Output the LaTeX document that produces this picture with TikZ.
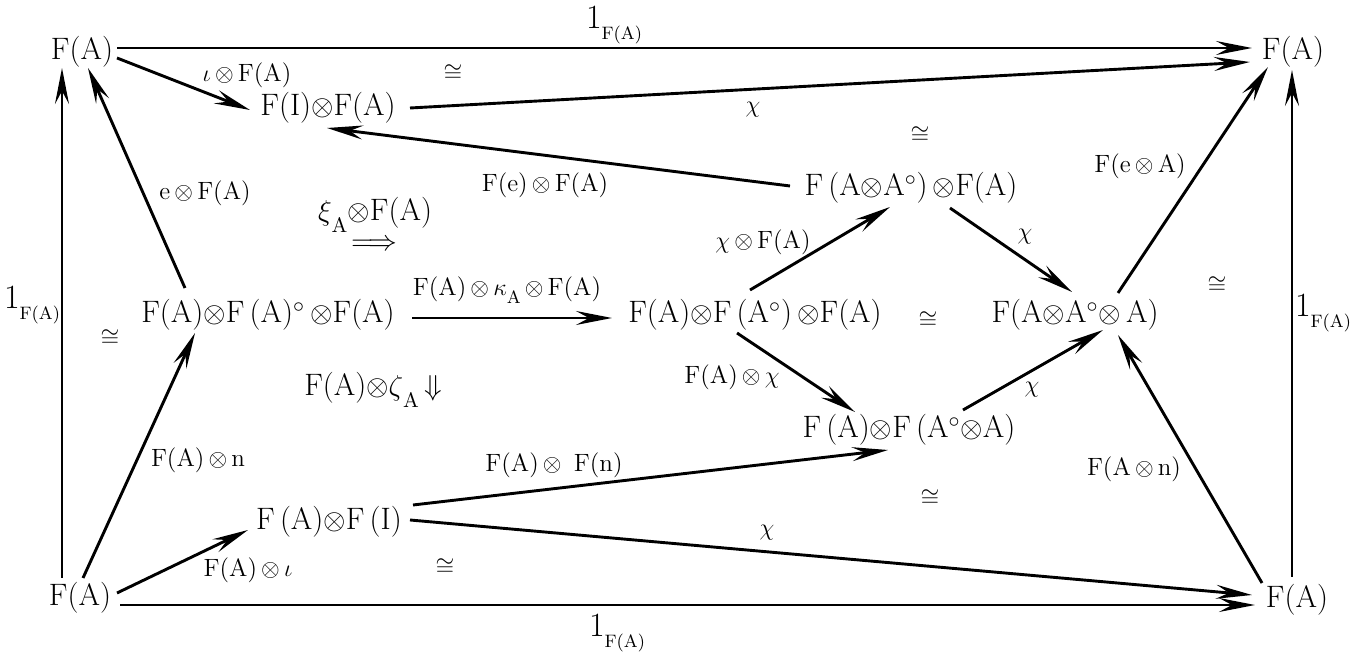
\documentclass[tikz,border=0pt]{standalone}
\usetikzlibrary{arrows.meta,calc}
\newcommand{\idFA}{{\fontsize{17}{18}\selectfont 1}{\fontsize{9}{10}\selectfont\raisebox{-5.5pt}{F(A)}}}
\newcommand{\ot}{$\otimes$}
\newcommand{\subA}[1]{\raisebox{-#1}{\fontsize{10.5}{12}\selectfont A}}
\tikzset{
  obj/.style={inner sep=0pt, font=\fontsize{15.5}{17}\selectfont},
  lbl/.style={inner sep=0pt, font=\fontsize{12.5}{14}\selectfont},
  arr/.style={line width=1.45pt, -{Stealth[length=18pt,width=7pt,inset=6.5pt]}},
  ln/.style={line width=1.45pt}
}
\begin{document}
\begin{tikzpicture}[x=0.5pt,y=-0.5pt]
\path[use as bounding box] (0,0) rectangle (1361,656);
% objects
\node[obj] (tl)  at (82,52)   {F(A)};
\node[obj] (tr)  at (1293,52) {F(A)};
\node[obj] (bl)  at (80,598)  {F(A)};
\node[obj] (br)  at (1297,600){F(A)};
\node[obj] (fia) at (328,108) {F(I)\ot F(A)};
\node[obj] (aaf) at (268,315) {F(A)\ot F\,(A)$^\circ$\,\ot F(A)};
\node[obj] (faf) at (755,315) {F(A)\ot F\,(A$^\circ$)\,\ot F(A)};
\node[obj] (fta) at (911,188) {F\,(A\ot A$^\circ$)\,\ot F(A)};
\node[obj] (fts) at (1075,315){F(A\ot A$^\circ$\ot\,A)};
\node[obj] (fat) at (909,430) {F\,(A)\ot F\,(A$^\circ$\ot A)};
\node[obj] (fai) at (329,522) {F\,(A)\ot F\,(I)};
% connectors
\draw[arr] ($(tl)+(35,-4)$) -- ($(tr)+(-41,-4)$);
\draw[arr] ($(bl)+(40,7)$) -- ($(br)+(-42,5)$);
\draw[arr] ($(tl)+(35,6)$) -- ($(fia)+(-78,2)$);
\draw[arr] ($(fia)+(82,0)$) -- ($(tr)+(-43,10)$);
\draw[arr] ($(fta)+(-121,-2)$) -- ($(fia)+(-1,20)$);
\draw[arr] ($(aaf)+(-83,-27)$) -- ($(tl)+(6,16)$);
\draw[arr] ($(bl)+(-18,-20)$) -- ($(tl)+(-20,16)$);
\draw[arr] ($(br)+(-5,-23)$) -- ($(tr)+(-1,18)$);
\draw[arr] ($(bl)+(3,-20)$) -- ($(aaf)+(-73,18)$);
\draw[arr] ($(bl)+(37,-5)$) -- ($(fai)+(-81,8)$);
\draw[arr] ($(fai)+(81,-2)$) -- ($(br)+(-45,-5)$);
\draw[arr] ($(fai)+(84,-17)$) -- ($(fat)+(-21,20)$);
\draw[arr] ($(aaf)+(144,3)$) -- ($(faf)+(-143,3)$);
\draw[arr] ($(faf)+(-5,-25)$) -- ($(fta)+(-21,19)$);
\draw[arr] ($(fta)+(39,20)$) -- ($(fts)+(-3,-23)$);
\draw[arr] ($(faf)+(-18,18)$) -- ($(fat)+(-54,-18)$);
\draw[arr] ($(fat)+(54,-20)$) -- ($(fts)+(28,15)$);
\draw[arr] ($(fts)+(43,-22)$) -- ($(tr)+(-25,15)$);
\draw[arr] ($(br)+(-35,-17)$) -- ($(fts)+(43,20)$);
% labels
\node[lbl] (l1) at (614,25)  {\idFA};
\node[lbl] (l2) at (617,633) {\idFA};
\node[lbl] (l3) at (32,305)  {\idFA};
\node[lbl] (l4) at (1323,313){\idFA};
\node[lbl] (l5) at (247,75)  {$\iota$\,\ot\,F(A)};
\node[lbl] (l6) at (753,110) {$\chi$};
\node[lbl] (l7) at (545,185) {F(e)\,\ot\,F(A)};
\node[lbl] (l8) at (205,193) {e\,\ot\,F(A)};
\node[lbl] (l9) at (1140,166){F(e\,\ot\,A)};
\node[lbl] (l10) at (763,242){$\chi$\,\ot\,F(A)};
\node[lbl] (l11) at (1025,237){$\chi$};
\node[lbl] (l12) at (507,290){F(A)\,\ot\,$\kappa$\raisebox{-4pt}{\fontsize{9}{10}\selectfont A}\,\ot\,F(A)};
\node[lbl] (l13) at (732,377){F(A)\,\ot\,$\chi$};
\node[lbl] (l14) at (1032,390){$\chi$};
\node[lbl] (l15) at (198,460){F(A)\,\ot\,n};
\node[lbl] (l16) at (554,465){F(A)\,\ot\, F(n)};
\node[lbl] (l17) at (767,533){$\chi$};
\node[lbl] (l18) at (248,570){F(A)\,\ot\,$\iota$};
\node[lbl] (l19) at (1134,469){F(A\,\ot\,n)};
% isomorphism marks
\node[lbl] (c1) at (453,73)  {$\cong$};
\node[lbl] (c2) at (920,135) {$\cong$};
\node[lbl] (c3) at (110,338) {$\cong$};
\node[lbl] (c4) at (928,320) {$\cong$};
\node[lbl] (c5) at (1217,285){$\cong$};
\node[lbl] (c6) at (930,498) {$\cong$};
\node[lbl] (c7) at (445,567) {$\cong$};
% 2-cells
\node[obj] (xi) at (375,215) {$\xi$\subA{6pt}\ot F(A)};
\node[obj] (xa) at (374,245) {$\Longrightarrow$};
\node[obj] (ze) at (373,390) {F(A)\ot$\zeta$\subA{6pt}\,$\Downarrow$};
\end{tikzpicture}
\end{document}
